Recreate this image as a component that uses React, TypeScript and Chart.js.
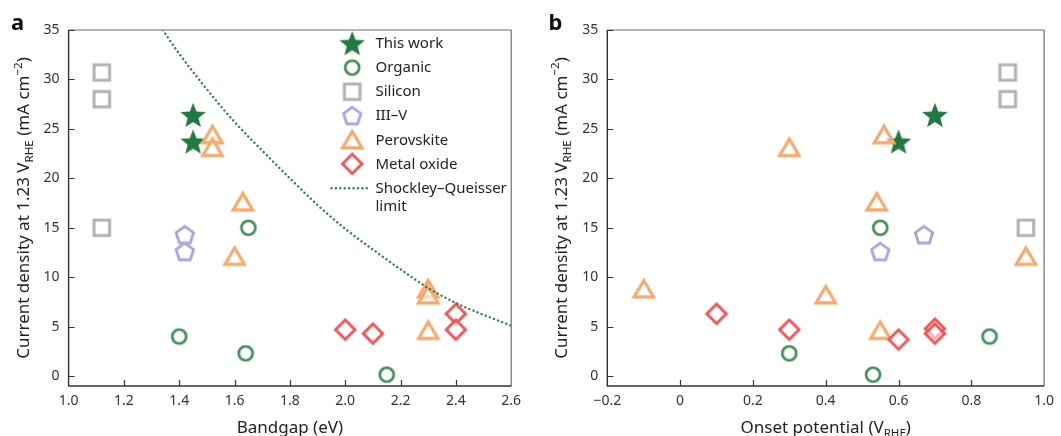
import React, { useEffect, useRef } from 'react';
import { Chart, registerables } from 'chart.js';

Chart.register(...registerables);

// ---------- data ----------
const currentTicks = [0, 5, 10, 15, 20, 25, 30, 35];
const currentTickLabels = ['0', '5', '10', '15', '20', '25', '30', '35'];
const bandgapTicks = [1.0, 1.2, 1.4, 1.6, 1.8, 2.0, 2.2, 2.4, 2.6];
const bandgapTickLabels = ['1.0', '1.2', '1.4', '1.6', '1.8', '2.0', '2.2', '2.4', '2.6'];
const onsetTicks = [-0.2, 0, 0.2, 0.4, 0.6, 0.8, 1.0];
const onsetTickLabels = ['\u22120.2', '0', '0.2', '0.4', '0.6', '0.8', '1.0'];

const thisWorkCurrent = [26.4, 23.7];
const thisWorkBandgap = [1.45, 1.45];
const thisWorkOnset = [0.70, 0.60];

const organicCurrent = [4.0, 2.3, 15.0, 0.15];
const organicBandgap = [1.40, 1.64, 1.65, 2.15];
const organicOnset = [0.85, 0.30, 0.55, 0.53];

const siliconCurrent = [30.7, 28.0, 15.0];
const siliconBandgap = [1.12, 1.12, 1.12];
const siliconOnset = [0.90, 0.90, 0.95];

const iiivCurrent = [14.3, 12.6];
const iiivBandgap = [1.42, 1.42];
const iiivOnset = [0.67, 0.55];

const perovskiteCurrent = [24.4, 23.1, 17.6, 12.1, 8.8, 8.2, 4.6];
const perovskiteBandgap = [1.52, 1.52, 1.63, 1.60, 2.30, 2.30, 2.30];
const perovskiteOnset = [0.56, 0.30, 0.54, 0.95, -0.10, 0.40, 0.55];

const metalOxideCurrentA = [4.7, 4.3, 6.3, 4.7];
const metalOxideBandgap = [2.0, 2.1, 2.4, 2.4];
const metalOxideCurrentB = [6.3, 4.7, 3.7, 4.8, 4.3];
const metalOxideOnset = [0.10, 0.30, 0.60, 0.70, 0.70];

const sqBandgap = [1.34, 1.4, 1.5, 1.6, 1.7, 1.8, 1.9, 2.0, 2.1, 2.2, 2.3, 2.4, 2.5, 2.6];
const sqCurrent = [35.0, 32.6, 29.0, 25.7, 22.8, 20.0, 17.3, 14.9, 12.8, 10.8, 8.9, 7.4, 6.2, 5.1];

const legendLabels = ['This work', 'Organic', 'Silicon', 'III\u2013V', 'Perovskite', 'Metal oxide'];

// ---------- styles ----------
const FONT = '"Noto Sans", "DejaVu Sans", sans-serif';
const TEXT = '#222222';
const COLORS = {
  star: '#21793f',
  organic: '#3e8e57',
  silicon: '#b3b3b3',
  iiiv: '#a8a5dd',
  perovskite: '#f6a96a',
  metal: '#ef5659',
  sq: '#2a8248',
};

type MarkerKind = 'star' | 'circle' | 'square' | 'pentagon' | 'triangle' | 'diamond';

function makeMarker(kind: MarkerKind): HTMLCanvasElement {
  const c = document.createElement('canvas');
  c.width = 32;
  c.height = 32;
  const g = c.getContext('2d')!;
  const cx = 16, cy = 16;
  g.lineJoin = 'miter';
  g.beginPath();
  if (kind === 'star') {
    const R = 13.4, r = 5.7;
    for (let i = 0; i < 10; i++) {
      const a = -Math.PI / 2 + (i * Math.PI) / 5;
      const rr = i % 2 === 0 ? R : r;
      const x = cx + rr * Math.cos(a), y = cy + 1.2 + rr * Math.sin(a);
      if (i === 0) g.moveTo(x, y); else g.lineTo(x, y);
    }
    g.closePath();
    g.fillStyle = COLORS.star;
    g.fill();
    return c;
  }
  let color = '#000';
  let lw = 2.9;
  if (kind === 'circle') {
    g.arc(cx, cy, 7, 0, Math.PI * 2);
    color = COLORS.organic;
    lw = 2.7;
  } else if (kind === 'square') {
    g.rect(cx - 7.8, cy - 7.8, 15.6, 15.6);
    color = COLORS.silicon;
    lw = 3.1;
  } else if (kind === 'pentagon') {
    const R = 9.2;
    for (let i = 0; i < 5; i++) {
      const a = -Math.PI / 2 + (i * 2 * Math.PI) / 5;
      const x = cx + R * Math.cos(a), y = cy + 0.8 + R * Math.sin(a);
      if (i === 0) g.moveTo(x, y); else g.lineTo(x, y);
    }
    g.closePath();
    color = COLORS.iiiv;
    lw = 2.8;
  } else if (kind === 'triangle') {
    g.moveTo(cx, cy - 8.6);
    g.lineTo(cx + 9.8, cy + 7.9);
    g.lineTo(cx - 9.8, cy + 7.9);
    g.closePath();
    color = COLORS.perovskite;
    lw = 3.1;
  } else if (kind === 'diamond') {
    g.moveTo(cx, cy - 9.7);
    g.lineTo(cx + 9.7, cy);
    g.lineTo(cx, cy + 9.7);
    g.lineTo(cx - 9.7, cy);
    g.closePath();
    color = COLORS.metal;
    lw = 3.0;
  }
  g.fillStyle = 'rgba(255,255,255,0.55)';
  g.fill();
  g.strokeStyle = color;
  g.lineWidth = lw;
  g.stroke();
  return c;
}

type Part = { t: string; sub?: boolean; sup?: boolean };

function drawRich(ctx: CanvasRenderingContext2D, parts: Part[], size: number, cx: number, baseY: number) {
  const measure = (p: Part) => {
    ctx.font = `${p.sub || p.sup ? size * 0.68 : size}px ${FONT}`;
    return ctx.measureText(p.t).width;
  };
  const total = parts.reduce((s, p) => s + measure(p), 0);
  let x = cx - total / 2;
  ctx.textAlign = 'left';
  ctx.textBaseline = 'alphabetic';
  ctx.fillStyle = TEXT;
  for (const p of parts) {
    const w = measure(p);
    let dy = 0;
    if (p.sub) dy = size * 0.28;
    if (p.sup) dy = -size * 0.42;
    ctx.fillText(p.t, x, baseY + dy);
    x += w;
  }
}

const yTitle: Part[] = [
  { t: 'Current density at 1.23 V' },
  { t: 'RHE', sub: true },
  { t: ' (mA cm' },
  { t: '\u22122', sup: true },
  { t: ')' },
];

type PanelCfg = {
  width: number;
  letter: string;
  letterX: number;
  xMin: number;
  xMax: number;
  xTicks: number[];
  xTickLabels: string[];
  yAxisWidth: number;
  padRight: number;
  xTitle: Part[];
  yTitleBaseX: number;
  legend: boolean;
  kind: 'a' | 'b';
};

function buildDatasets(kind: 'a' | 'b', markers: Record<string, HTMLCanvasElement>) {
  const pts = (xs: number[], ys: number[]) => xs.map((x, i) => ({ x, y: ys[i] }));
  const sc = (data: any[], m: HTMLCanvasElement) => ({
    type: 'scatter' as const,
    data,
    pointStyle: m,
    pointRadius: 10,
    pointHoverRadius: 10,
  });
  const ds: any[] = [];
  if (kind === 'a') {
    ds.push({
      type: 'line',
      data: pts(sqBandgap, sqCurrent),
      borderColor: COLORS.sq,
      borderWidth: 2.4,
      borderDash: [0.01, 4.4],
      borderCapStyle: 'round',
      pointRadius: 0,
      fill: false,
      cubicInterpolationMode: 'monotone',
    });
    ds.push(sc(pts(siliconBandgap, siliconCurrent), markers.square));
    ds.push(sc(pts(organicBandgap, organicCurrent), markers.circle));
    ds.push(sc(pts(iiivBandgap, iiivCurrent), markers.pentagon));
    ds.push(sc(pts(metalOxideBandgap, metalOxideCurrentA), markers.diamond));
    ds.push(sc(pts(perovskiteBandgap, perovskiteCurrent), markers.triangle));
    ds.push(sc(pts(thisWorkBandgap, thisWorkCurrent), markers.star));
  } else {
    ds.push(sc(pts(siliconOnset, siliconCurrent), markers.square));
    ds.push(sc(pts(organicOnset, organicCurrent), markers.circle));
    ds.push(sc(pts(iiivOnset, iiivCurrent), markers.pentagon));
    ds.push(sc(pts(metalOxideOnset, metalOxideCurrentB), markers.diamond));
    ds.push(sc(pts(perovskiteOnset, perovskiteCurrent), markers.triangle));
    ds.push(sc(pts(thisWorkOnset, thisWorkCurrent), markers.star));
  }
  return ds;
}

function Panel({ cfg }: { cfg: PanelCfg }) {
  const ref = useRef<HTMLCanvasElement>(null);
  useEffect(() => {
    const canvas = ref.current!;
    const markers: Record<string, HTMLCanvasElement> = {
      star: makeMarker('star'),
      circle: makeMarker('circle'),
      square: makeMarker('square'),
      pentagon: makeMarker('pentagon'),
      triangle: makeMarker('triangle'),
      diamond: makeMarker('diamond'),
    };
    const legendMarkers = [markers.star, markers.circle, markers.square, markers.pentagon, markers.triangle, markers.diamond];

    const decor = {
      id: 'decor',
      afterDraw(chart: any) {
        const ctx: CanvasRenderingContext2D = chart.ctx;
        const a = chart.chartArea;
        const xs = chart.scales.x;
        const ys = chart.scales.y;
        ctx.save();
        // frame
        ctx.lineCap = 'butt';
        ctx.strokeStyle = '#6e6e6e';
        ctx.lineWidth = 1.2;
        ctx.beginPath();
        ctx.moveTo(a.left, a.top);
        ctx.lineTo(a.right, a.top);
        ctx.lineTo(a.right, a.bottom);
        ctx.stroke();
        ctx.strokeStyle = '#333333';
        ctx.lineWidth = 1.4;
        ctx.beginPath();
        ctx.moveTo(a.left, a.top);
        ctx.lineTo(a.left, a.bottom);
        ctx.lineTo(a.right, a.bottom);
        ctx.stroke();
        // inward ticks
        ctx.lineWidth = 1.2;
        ctx.beginPath();
        for (const v of cfg.xTicks) {
          if (v <= cfg.xMin || v >= cfg.xMax) continue;
          const px = Math.round(xs.getPixelForValue(v)) + 0.5;
          ctx.moveTo(px, a.bottom);
          ctx.lineTo(px, a.bottom - 6);
        }
        for (const v of currentTicks) {
          const py = Math.round(ys.getPixelForValue(v)) + 0.5;
          ctx.moveTo(a.left, py);
          ctx.lineTo(a.left + 6, py);
        }
        ctx.stroke();
        // panel letter
        ctx.fillStyle = '#111';
        ctx.font = `bold 22px ${FONT}`;
        ctx.textAlign = 'left';
        ctx.textBaseline = 'alphabetic';
        ctx.fillText(cfg.letter, cfg.letterX, 30);
        // x title
        drawRich(ctx, cfg.xTitle, 17, (a.left + a.right) / 2, 432.5);
        // y title
        ctx.save();
        ctx.translate(cfg.yTitleBaseX, (a.top + a.bottom) / 2);
        ctx.rotate(-Math.PI / 2);
        drawRich(ctx, yTitle, 17, 0, 0);
        ctx.restore();
        // legend
        if (cfg.legend) {
          const rows = [43.3, 67.6, 91.7, 115.6, 140, 163.8];
          ctx.font = `15px ${FONT}`;
          ctx.textBaseline = 'middle';
          ctx.textAlign = 'left';
          ctx.fillStyle = TEXT;
          rows.forEach((y, i) => {
            const m = legendMarkers[i];
            ctx.drawImage(m, 352.2 - m.width / 2, y - m.height / 2);
            ctx.fillText(legendLabels[i], 375.5, y + 0.5);
          });
          ctx.strokeStyle = COLORS.sq;
          ctx.lineWidth = 2.4;
          ctx.lineCap = 'round';
          ctx.setLineDash([0.01, 4.4]);
          ctx.beginPath();
          ctx.moveTo(331.5, 188.3);
          ctx.lineTo(368.5, 188.3);
          ctx.stroke();
          ctx.setLineDash([]);
          ctx.fillText('Shockley\u2013Queisser', 375.5, 188.8);
          ctx.fillText('limit', 375.5, 206.7);
        }
        ctx.restore();
      },
    };

    const tickFont = { family: FONT, size: 14 };
    const chart = new Chart(canvas, {
      type: 'scatter',
      data: { datasets: buildDatasets(cfg.kind, markers) },
      options: {
        animation: false,
        responsive: false,
        devicePixelRatio: 1,
        events: [],
        layout: { padding: { left: 0, right: cfg.padRight, top: 30, bottom: 0 } },
        plugins: { legend: { display: false }, tooltip: { enabled: false } },
        scales: {
          x: {
            type: 'linear',
            min: cfg.xMin,
            max: cfg.xMax,
            grid: { display: false, drawTicks: false, tickLength: 0 },
            border: { display: false },
            afterBuildTicks: (s: any) => {
              s.ticks = cfg.xTicks.map((v) => ({ value: v }));
            },
            afterFit: (s: any) => {
              s.height = 50;
            },
            ticks: {
              font: tickFont,
              color: '#333',
              padding: 7,
              maxRotation: 0,
              autoSkip: false,
              callback: (_v: any, i: number) => cfg.xTickLabels[i],
            },
          },
          y: {
            type: 'linear',
            min: -1,
            max: 35,
            grid: { display: false, drawTicks: false, tickLength: 0 },
            border: { display: false },
            afterBuildTicks: (s: any) => {
              s.ticks = currentTicks.map((v) => ({ value: v }));
            },
            afterFit: (s: any) => {
              s.width = cfg.yAxisWidth;
            },
            ticks: {
              font: tickFont,
              color: '#333',
              padding: 9,
              autoSkip: false,
              callback: (_v: any, i: number) => currentTickLabels[i],
            },
          },
        },
      } as any,
      plugins: [decor],
    });
    return () => chart.destroy();
  }, [cfg]);
  return <canvas ref={ref} width={cfg.width} height={436} style={{ display: 'block', width: cfg.width, height: 436 }} />;
}

const panelA: PanelCfg = {
  width: 530,
  letter: 'a',
  letterX: 11,
  xMin: 1.0,
  xMax: 2.6,
  xTicks: bandgapTicks,
  xTickLabels: bandgapTickLabels,
  yAxisWidth: 68.6,
  padRight: 18.8,
  xTitle: [{ t: 'Bandgap (eV)' }],
  yTitleBaseX: 28.7,
  legend: true,
  kind: 'a',
};

const panelB: PanelCfg = {
  width: 531,
  letter: 'b',
  letterX: 18.5,
  xMin: -0.2,
  xMax: 1.0,
  xTicks: onsetTicks,
  xTickLabels: onsetTickLabels,
  yAxisWidth: 77.3,
  padRight: 10.6,
  xTitle: [{ t: 'Onset potential (V' }, { t: 'RHE', sub: true }, { t: ')' }],
  yTitleBaseX: 36.6,
  legend: false,
  kind: 'b',
};

export default function App() {
  return (
    <div style={{ position: 'absolute', left: 0, top: 0, width: 1061, height: 436, background: '#fff', display: 'flex' }}>
      <Panel cfg={panelA} />
      <Panel cfg={panelB} />
    </div>
  );
}
